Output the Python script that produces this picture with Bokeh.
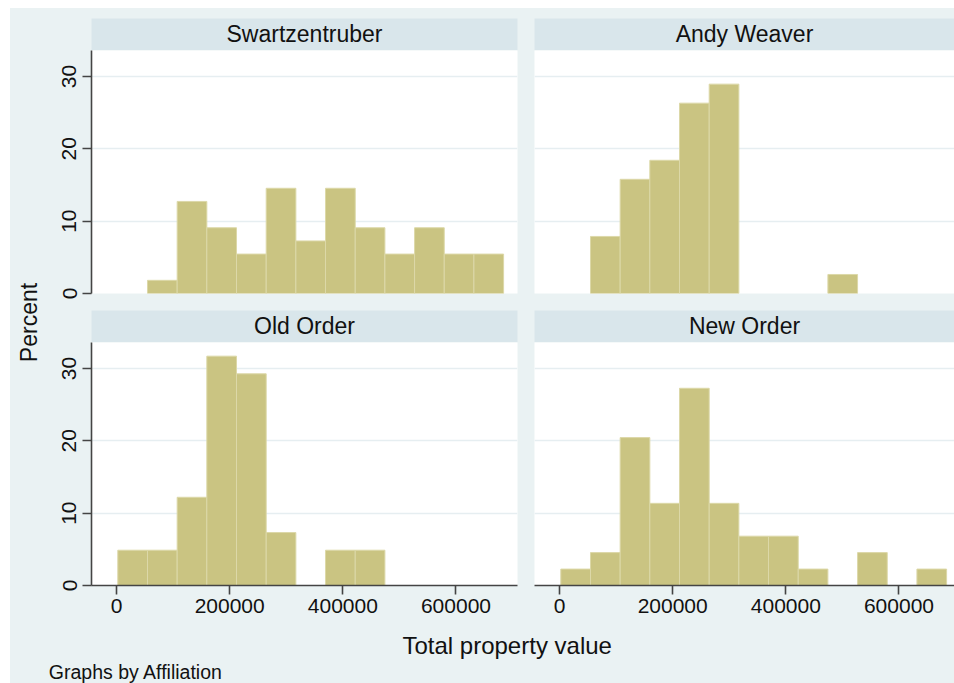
from bokeh.plotting import figure
from bokeh.models import ColumnDataSource, Range1d, FixedTicker, NumeralTickFormatter
from bokeh.layouts import row, column
from bokeh.core.properties import value
from bokeh.embed import file_html
from bokeh.resources import INLINE
from math import pi

# ---------------- data (percent of each group per bin) ----------------
bin_edges = [2300, 54750, 107200, 159650, 212100, 264550, 317000, 369450,
             421900, 474350, 526800, 579250, 631700, 684150]
groups = ["Swartzentruber", "Andy Weaver", "Old Order", "New Order"]
swartzentruber = [0, 1.82, 12.73, 9.09, 5.45, 14.55, 7.27, 14.55, 9.09, 5.45, 9.09, 5.45, 5.45]
andy_weaver = [0, 7.89, 15.79, 18.42, 26.32, 28.95, 0, 0, 0, 2.63, 0, 0, 0]
old_order = [4.88, 4.88, 12.20, 31.71, 29.27, 7.32, 0, 4.88, 4.88, 0, 0, 0, 0]
new_order = [2.27, 4.55, 20.45, 11.36, 27.27, 11.36, 6.82, 6.82, 2.27, 0, 4.55, 0, 2.27]
series = [swartzentruber, andy_weaver, old_order, new_order]
x_ticks = [0, 200000, 400000, 600000]
y_ticks = [0, 10, 20, 30]
x_title = "Total property value"
y_title = "Percent"
note = "Graphs by Affiliation"

# ---------------- style ----------------
FONT = "Liberation Sans"
BG = "#EAF2F3"
HEADER = "#D9E6EB"
BAR = "#CAC482"
BAR_LINE = "#DCD8A8"
GRID = "#E6EEF1"
AXIS = "#444444"
TXT = "#111111"

X_START = -44200
X_PER_PX = 1000 / 0.5658
Y_RANGE = (0, 33.6)

MARGIN_TOP, MARGIN_LEFT = 8, 10
STRIP_W = 38
L_BORDER_L, L_FRAME, L_BORDER_R = 43, 426, 8
R_BORDER_L, R_FRAME, R_BORDER_R = 9, 420, 0
HDR_TOP = 10
HDR_H = 32
FRAME_H = 243
TOP_GAP = 17
BOTTOM_AXIS = 40
FOOTER_H = 58
INNER_W = STRIP_W + L_BORDER_L + L_FRAME + L_BORDER_R + R_BORDER_L + R_FRAME + R_BORDER_R
BODY_H = HDR_TOP + HDR_H + FRAME_H + TOP_GAP + HDR_H + FRAME_H + BOTTOM_AXIS


def blank(fw, fh, left=0, right=0, top=0, bottom=0, fill=BG, border=BG):
    p = figure(frame_width=fw, frame_height=fh, output_backend="svg",
               toolbar_location=None, x_axis_location=None, y_axis_location=None,
               x_range=Range1d(0, fw), y_range=Range1d(0, fh),
               min_border=0, min_border_left=left, min_border_right=right,
               min_border_top=top, min_border_bottom=bottom)
    p.background_fill_color = fill
    p.border_fill_color = border
    p.outline_line_color = None
    p.grid.visible = False
    return p


def header(text, is_left, top):
    if is_left:
        p = blank(L_FRAME, HDR_H, L_BORDER_L, L_BORDER_R, top, 0, HEADER)
        fw = L_FRAME
    else:
        p = blank(R_FRAME, HDR_H, R_BORDER_L, R_BORDER_R, top, 0, HEADER)
        fw = R_FRAME
    p.text(x=[fw / 2], y=[16.2], text=[text], text_align="center",
           text_baseline="middle", text_font=value(FONT),
           text_font_size="23px", text_color=TXT)
    return p


def panel(vals, is_left, is_bottom):
    fw = L_FRAME if is_left else R_FRAME
    p = figure(frame_width=fw, frame_height=FRAME_H, output_backend="svg",
               toolbar_location=None,
               x_range=Range1d(X_START, X_START + fw * X_PER_PX),
               y_range=Range1d(*Y_RANGE),
               x_axis_location="below" if is_bottom else None,
               y_axis_location="left" if is_left else None,
               min_border=0,
               min_border_left=L_BORDER_L if is_left else R_BORDER_L,
               min_border_right=L_BORDER_R if is_left else R_BORDER_R,
               min_border_top=0,
               min_border_bottom=BOTTOM_AXIS if is_bottom else TOP_GAP)
    p.background_fill_color = "white"
    p.border_fill_color = BG
    p.outline_line_color = None
    p.xgrid.visible = False
    p.ygrid.ticker = FixedTicker(ticks=[t for t in y_ticks if t > 0])
    p.ygrid.grid_line_color = GRID
    p.ygrid.grid_line_width = 1.5

    lefts, rights, tops = [], [], []
    for i, v in enumerate(vals):
        if v > 0:
            lefts.append(bin_edges[i])
            rights.append(bin_edges[i + 1])
            tops.append(v)
    src = ColumnDataSource(dict(left=lefts, right=rights, top=tops))
    p.quad(left="left", right="right", top="top", bottom=0, source=src,
           fill_color=BAR, line_color=BAR_LINE, line_width=1)

    for ax in p.axis:
        ax.axis_line_color = AXIS
        ax.axis_line_width = 1.6
        ax.major_tick_line_color = AXIS
        ax.major_tick_line_width = 1.6
        ax.major_tick_in = 0
        ax.major_tick_out = 9
        ax.minor_tick_line_color = None
        ax.major_label_text_font = FONT
        ax.major_label_text_font_size = "21px"
        ax.major_label_text_color = TXT
    if is_bottom:
        p.xaxis.ticker = FixedTicker(ticks=x_ticks)
        p.xaxis.formatter = NumeralTickFormatter(format="0")
        p.xaxis.major_label_standoff = 4
    if is_left:
        p.yaxis.ticker = FixedTicker(ticks=y_ticks)
        p.yaxis.major_label_orientation = "vertical"
        p.yaxis.major_label_standoff = 6
    return p


bg_style = {"background-color": BG}

left_col = column(
    header(groups[0], True, HDR_TOP), panel(series[0], True, False),
    header(groups[2], True, 0), panel(series[2], True, True),
    spacing=0, styles=bg_style)
right_col = column(
    header(groups[1], False, HDR_TOP), panel(series[1], False, False),
    header(groups[3], False, 0), panel(series[3], False, True),
    spacing=0, styles=bg_style)

strip = blank(STRIP_W, BODY_H)
strip.text(x=[18], y=[BODY_H - 314], text=[y_title], angle=pi / 2,
           text_align="center", text_baseline="middle", text_font=value(FONT),
           text_font_size="23px", text_color=TXT)

footer = blank(INNER_W, FOOTER_H)
footer.text(x=[496.7], y=[38], text=[x_title], text_align="center",
            text_baseline="middle", text_font=value(FONT),
            text_font_size="24px", text_color=TXT)
footer.text(x=[38.3], y=[11.5], text=[note], text_align="left",
            text_baseline="middle", text_font=value(FONT),
            text_font_size="19.5px", text_color=TXT)

white_top = blank(MARGIN_LEFT + INNER_W, MARGIN_TOP, fill="white", border="white")
white_left = blank(MARGIN_LEFT, BODY_H + FOOTER_H, fill="white", border="white")

inner = column(row(strip, left_col, right_col, spacing=0, styles=bg_style),
               footer, spacing=0, styles=bg_style)

layout = column(
    white_top,
    row(white_left, inner, spacing=0),
    spacing=0)

open("out.html", "w").write(file_html(layout, INLINE))
